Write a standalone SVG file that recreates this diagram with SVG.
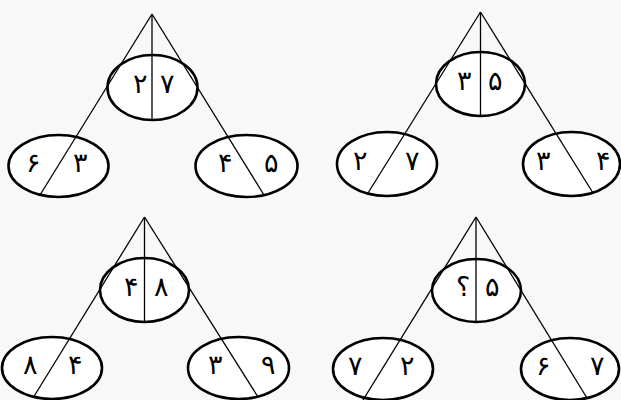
<svg xmlns="http://www.w3.org/2000/svg" width="621" height="400" viewBox="0 0 621 400">
<style>
.bg{fill:#f8f8f8}
.node ellipse{fill:#fff;stroke:#000;stroke-width:2.6}
.edge line{stroke:#000;stroke-width:1.3;fill:none}
.node text{font-family:"DejaVu Sans",sans-serif;font-size:27px;font-weight:300;text-anchor:middle;fill:#000}
</style>
<rect class="bg" width="621" height="400"/>
<!-- Tree 1 -->
<g id="t1-top" class="node"><ellipse cx="152.5" cy="87.5" rx="45" ry="32.5"/><text x="140" y="93">۲</text><text x="167" y="93">۷</text></g>
<g id="t1-left" class="node"><ellipse cx="58.5" cy="166" rx="50" ry="31"/><text x="33" y="172">۶</text><text x="80" y="172">۳</text></g>
<g id="t1-right" class="node"><ellipse cx="246.5" cy="166" rx="51" ry="31"/><text x="225" y="172">۴</text><text x="271" y="172">۵</text></g>
<!-- Tree 2 -->
<g id="t2-top" class="node"><ellipse cx="480.5" cy="84" rx="44.5" ry="32"/><text x="464" y="90">۳</text><text x="495" y="90">۵</text></g>
<g id="t2-left" class="node"><ellipse cx="387" cy="164" rx="50" ry="32"/><text x="360" y="170">۲</text><text x="412" y="170">۷</text></g>
<g id="t2-right" class="node"><ellipse cx="571.5" cy="164" rx="48.5" ry="32"/><text x="543" y="170">۳</text><text x="603" y="170">۴</text></g>
<!-- Tree 3 -->
<g id="t3-top" class="node"><ellipse cx="144.5" cy="290" rx="44.5" ry="32"/><text x="131" y="296">۴</text><text x="161" y="296">۸</text></g>
<g id="t3-left" class="node"><ellipse cx="52" cy="368" rx="50" ry="31"/><text x="30" y="374">۸</text><text x="75" y="374">۴</text></g>
<g id="t3-right" class="node"><ellipse cx="238.5" cy="368" rx="50.5" ry="31"/><text x="215" y="374">۳</text><text x="268" y="374">۹</text></g>
<!-- Tree 4 -->
<g id="t4-top" class="node"><ellipse cx="476.5" cy="290.5" rx="44.5" ry="31.5"/><text x="463" y="296">؟</text><text x="492" y="296">۵</text></g>
<g id="t4-left" class="node"><ellipse cx="383" cy="369" rx="50" ry="31"/><text x="355" y="375">۷</text><text x="407" y="375">۲</text></g>
<g id="t4-right" class="node"><ellipse cx="570" cy="369" rx="49" ry="31"/><text x="543" y="375">۶</text><text x="597" y="375">۷</text></g>
<g id="connectors" class="edge">
<line x1="152" y1="14" x2="152" y2="120"/><line x1="152" y1="14" x2="40" y2="195"/><line x1="152" y1="14" x2="264" y2="195"/>
<line x1="480.5" y1="12" x2="480.5" y2="116"/><line x1="480.5" y1="12" x2="368" y2="193"/><line x1="480.5" y1="12" x2="593" y2="193"/>
<line x1="144.5" y1="217" x2="144.5" y2="322"/><line x1="144.5" y1="217" x2="33" y2="398"/><line x1="144.5" y1="217" x2="258" y2="397"/>
<line x1="476" y1="217" x2="476" y2="322"/><line x1="476" y1="217" x2="363" y2="400"/><line x1="476" y1="217" x2="587" y2="398"/>
</g>
</svg>
